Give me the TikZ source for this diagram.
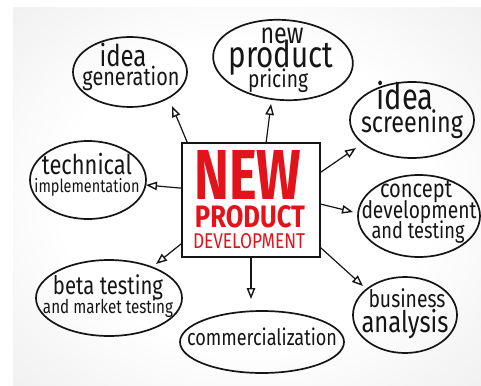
\documentclass[tikz,border=0pt]{standalone}
\usepackage{fontspec}
\setmainfont{Fira Sans}
\usetikzlibrary{shapes.geometric,arrows.meta}
\definecolor{ink}{HTML}{151515}
\definecolor{npred}{HTML}{E3131B}
\pgfdeclareradialshading{bgshade}{\pgfpoint{0bp}{0bp}}{color(0bp)=(white); color(20bp)=(white); color(50bp)=(black!11)}
\newcommand{\fw}[2]{\scalebox{1}[1.25]{\resizebox{#1pt}{!}{#2}}}
\begin{document}
\begin{tikzpicture}[x=1pt,y=-1pt,
  bubble/.style={draw=ink, line width=1.7pt},
  lbl/.style={anchor=base, inner sep=0pt, text=ink, font=\fontsize{16}{16}\selectfont},
  conn/.style={draw=ink, line width=1.2pt, -{Triangle[open, length=11pt, width=8.5pt, line width=1.4pt]}},
  redtxt/.style={anchor=base, text=npred, inner sep=0pt}]
\useasboundingbox (0,0) rectangle (481,385);
\fill[white] (0,0) rectangle (481,385);
\shade[shading=bgshade] (13,8) rectangle (481,385);

% ellipse centres
\coordinate (gen) at (130,72);
\coordinate (price) at (283,60);
\coordinate (screen) at (412,120);
\coordinate (tech) at (88,180);
\coordinate (concept) at (419,216);
\coordinate (beta) at (109,298);
\coordinate (comm) at (262,342);
\coordinate (bus) at (405,315);

\draw[bubble] (gen) ellipse [x radius=57pt, y radius=35pt];
\draw[bubble, rotate around={-4:(price)}] (price) ellipse [x radius=70pt, y radius=40pt];
\draw[bubble] (screen) ellipse [x radius=62pt, y radius=38pt];
\draw[bubble] (tech) ellipse [x radius=58pt, y radius=39pt];
\draw[bubble] (concept) ellipse [x radius=61pt, y radius=41pt];
\draw[bubble] (beta) ellipse [x radius=73pt, y radius=38pt];
\draw[bubble] (comm) ellipse [x radius=82pt, y radius=31pt];
\draw[bubble] (bus) ellipse [x radius=52pt, y radius=38pt];

% labels
\node[lbl] (gen1) at (123,67) {\fw{47}{idea}};
\node[lbl] (gen2) at (131,85) {\fw{97}{generation}};
\node[lbl] (pri1) at (282,44) {\fw{43}{new}};
\node[lbl] (pri2) at (281,68) {\fw{105}{product}};
\node[lbl] (pri3) at (278,88) {\fw{60}{pricing}};
\node[lbl] (scr1) at (405,109) {\fw{57}{idea}};
\node[lbl] (scr2) at (412,132) {\fw{102}{screening}};
\node[lbl] (tec1) at (87,174) {\fw{90}{technical}};
\node[lbl] (tec2) at (87,192) {\fw{105}{implementation}};
\node[lbl] (con1) at (416,197) {\fw{72}{concept}};
\node[lbl] (con2) at (419,218) {\fw{115}{development}};
\node[lbl] (con3) at (418,238) {\fw{93}{and testing}};
\node[lbl] (bet1) at (108,294) {\fw{110}{beta testing}};
\node[lbl] (bet2) at (108,313) {\fw{130}{and market testing}};
\node[lbl] (com1) at (262,345) {\fw{150}{commercialization}};
\node[lbl] (bus1) at (407,307) {\fw{77}{business}};
\node[lbl] (bus2) at (405,332) {\fw{87}{analysis}};

% central box
\node[draw=ink, line width=1.7pt, fill=white, minimum width=138pt, minimum height=114pt, inner sep=0pt] (core) at (251,200) {};
\node[redtxt] (tnew) at (248,199) {\resizebox{107pt}{49pt}{\bfseries NEW}};
\node[redtxt] (tprod) at (250,227) {\resizebox{110pt}{22pt}{\bfseries PRODUCT}};
\node[redtxt] (tdev) at (249,248) {\resizebox{112pt}{15pt}{DEVELOPMENT}};

% arrow ends
\coordinate (eGen) at (172,106);
\coordinate (ePrice) at (271,104);
\coordinate (eScreen) at (356,148);
\coordinate (eTech) at (146,185);
\coordinate (eConcept) at (353,212);
\coordinate (eBus) at (363,286);
\coordinate (eComm) at (251,299);
\coordinate (eBeta) at (156,264);

\draw[conn] ([xshift=6pt]core.north west) -- (eGen);
\draw[conn] ([xshift=85pt]core.north west) -- (ePrice);
\draw[conn] ([yshift=-30pt]core.north east) -- (eScreen);
\draw[conn] ([yshift=-46pt]core.north west) -- (eTech);
\draw[conn] ([yshift=-62pt]core.north east) -- (eConcept);
\draw[conn] ([yshift=10pt]core.south east) -- (eBus);
\draw[conn] (core.south) -- (eComm);
\draw[conn] ([yshift=14pt]core.south west) -- (eBeta);
\end{tikzpicture}
\end{document}
